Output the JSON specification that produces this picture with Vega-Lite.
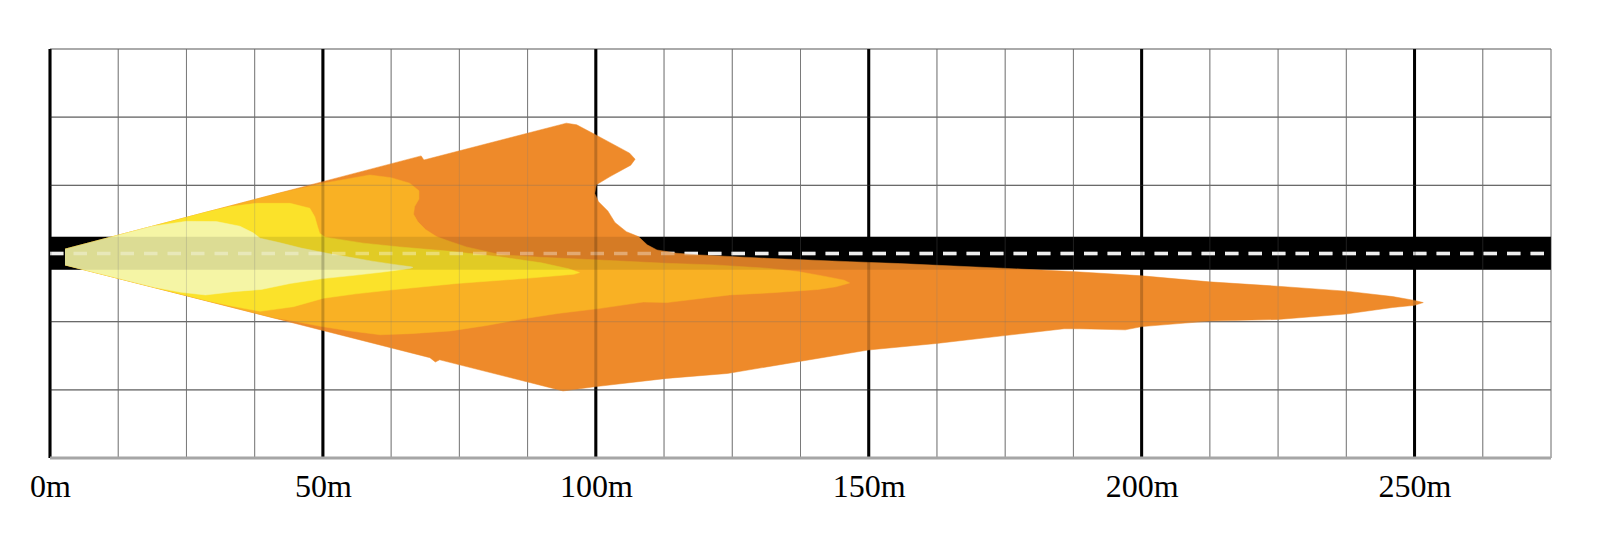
{
  "$schema": "https://vega.github.io/schema/vega-lite/v6.json",
  "width": 1501,
  "height": 409,
  "autosize": {"type": "none"},
  "padding": {"left": 50, "top": 49, "right": 49, "bottom": 79},
  "background": "white",
  "config": {
    "view": {"stroke": null},
    "axisX": {"tickCount": 6, "labelExpr": "datum.value + 'm'", "labelFont": "Liberation Serif", "labelFontSize": 32, "labelColor": "#000000", "labelBaseline": "alphabetic", "labelPadding": 38, "tickSize": 0, "tickOpacity": 0, "domain": false, "grid": false, "labelFlush": false, "labelOverlap": false, "labelAlign": "center"}
  },
  "datasets": {
    "vthin": [{"x":12.5},{"x":25},{"x":37.5},{"x":62.5},{"x":75},{"x":87.5},{"x":112.5},{"x":125},{"x":137.5},{"x":162.5},{"x":175},{"x":187.5},{"x":212.5},{"x":225},{"x":237.5},{"x":262.5},{"x":275}],
    "vmajor": [{"x":0},{"x":50},{"x":100},{"x":150},{"x":200},{"x":250}],
    "hgrid": [{"y":-25},{"y":-12.5},{"y":0},{"y":12.5},{"y":25},{"y":37.5}],
    "hgridover": [{"y":-25},{"y":-12.5},{"y":12.5},{"y":25},{"y":37.5}],
    "bottom": [{"y":-37.5}],
    "road": [{"x":0,"x2":275,"y":-3,"y2":3.05}],
    "center": [{"x":0,"x2":275,"y":0}],
    "orange": [
      {"x":2.75,"y":0.8},{"x":68.0,"y":17.9},{"x":68.5,"y":17.15},{"x":94.6,"y":23.9},{"x":96.5,"y":23.6},{"x":100.1,"y":21.7},{"x":106.2,"y":18.4},{"x":107.2,"y":17.3},{"x":106.4,"y":16.2},{"x":102.6,"y":14.1},{"x":100.1,"y":12.6},{"x":99.8,"y":11.0},{"x":100.5,"y":9.5},{"x":102.2,"y":7.8},{"x":103.5,"y":5.7},{"x":105.6,"y":4.0},{"x":107.8,"y":3.1},{"x":109.4,"y":1.6},{"x":111.2,"y":0.65},{"x":114.8,"y":0.05},{"x":119,"y":-0.27},{"x":131.3,"y":-0.88},{"x":146.5,"y":-1.5},{"x":155.7,"y":-1.85},{"x":174.5,"y":-2.7},{"x":187.2,"y":-3.3},{"x":200.1,"y":-4.1},{"x":212.4,"y":-5.2},{"x":224.9,"y":-6.0},{"x":237.4,"y":-6.9},{"x":246.0,"y":-7.9},{"x":250,"y":-8.6},{"x":251.6,"y":-9.0},{"x":250,"y":-9.5},{"x":246,"y":-9.9},{"x":237.4,"y":-11.1},{"x":224.9,"y":-12.1},{"x":212.4,"y":-12.4},{"x":200.1,"y":-13.4},{"x":197.0,"y":-14.0},{"x":188.6,"y":-13.8},{"x":185.8,"y":-13.8},{"x":174.5,"y":-15.1},{"x":162.4,"y":-16.5},{"x":149.9,"y":-17.7},{"x":137.3,"y":-19.8},{"x":124.1,"y":-22.0},{"x":113.0,"y":-22.9},{"x":100.1,"y":-24.4},{"x":94.0,"y":-25.2},{"x":71.4,"y":-19.5},{"x":70.6,"y":-19.9},{"x":69.6,"y":-19.1},{"x":2.75,"y":-2.1}
    ],
    "ltorange": [
      {"x":2.75,"y":0.8},{"x":41.5,"y":10.95},{"x":50.1,"y":12.9},{"x":58.6,"y":14.4},{"x":62.5,"y":13.9},{"x":65.9,"y":12.9},{"x":67.6,"y":11.5},{"x":67.6,"y":10.0},{"x":66.8,"y":8.6},{"x":66.6,"y":7.2},{"x":67.4,"y":5.8},{"x":68.8,"y":4.4},{"x":70.8,"y":3.1},{"x":73.3,"y":2.2},{"x":76.3,"y":1.2},{"x":82.4,"y":-0.2},{"x":90,"y":-0.7},{"x":100.7,"y":-1.2},{"x":113,"y":-1.8},{"x":121.8,"y":-2.1},{"x":131.3,"y":-2.7},{"x":137,"y":-3.3},{"x":142,"y":-4.2},{"x":145.5,"y":-4.9},{"x":146.5,"y":-5.4},{"x":144,"y":-6.1},{"x":140.7,"y":-6.6},{"x":132.3,"y":-7.2},{"x":124.5,"y":-7.6},{"x":113,"y":-9.0},{"x":108.7,"y":-8.9},{"x":100.5,"y":-10.1},{"x":93,"y":-11.0},{"x":86.5,"y":-12.0},{"x":80,"y":-13.2},{"x":73.4,"y":-14.2},{"x":66,"y":-14.7},{"x":60.5,"y":-14.9},{"x":55,"y":-14.2},{"x":49.8,"y":-13.4},{"x":44.5,"y":-12.4},{"x":41,"y":-11.8},{"x":2.75,"y":-2.1}
    ],
    "yellow": [
      {"x":2.75,"y":0.8},{"x":28.7,"y":7.6},{"x":33,"y":8.6},{"x":37.8,"y":9.2},{"x":44,"y":9.2},{"x":47.6,"y":8.3},{"x":48.5,"y":6.75},{"x":49.0,"y":5.0},{"x":49.4,"y":3.7},{"x":50.4,"y":3.0},{"x":57.4,"y":1.9},{"x":64.1,"y":1.2},{"x":73.3,"y":0.4},{"x":82.4,"y":-0.6},{"x":90,"y":-1.7},{"x":95,"y":-2.8},{"x":97.0,"y":-3.5},{"x":96,"y":-3.8},{"x":87.3,"y":-4.55},{"x":74.5,"y":-5.5},{"x":62.3,"y":-6.7},{"x":56,"y":-7.4},{"x":50.1,"y":-8.2},{"x":44.6,"y":-9.75},{"x":41.5,"y":-10.2},{"x":38.5,"y":-10.6},{"x":33,"y":-9.6},{"x":29,"y":-8.7},{"x":2.75,"y":-2.1}
    ],
    "pale": [
      {"x":2.75,"y":0.8},{"x":18.8,"y":5.0},{"x":25.0,"y":5.9},{"x":30.5,"y":5.85},{"x":34.8,"y":5.0},{"x":37.2,"y":3.8},{"x":38.5,"y":2.8},{"x":42,"y":2.0},{"x":46,"y":1.0},{"x":51,"y":0.0},{"x":55,"y":-0.7},{"x":59,"y":-1.4},{"x":63,"y":-2.0},{"x":66.2,"y":-2.45},{"x":66.5,"y":-2.55},{"x":65.9,"y":-2.75},{"x":61,"y":-3.4},{"x":55.7,"y":-4.0},{"x":50,"y":-4.6},{"x":44,"y":-5.5},{"x":38.7,"y":-6.6},{"x":33.6,"y":-7.0},{"x":28.5,"y":-7.6},{"x":24,"y":-7.1},{"x":19.1,"y":-6.2},{"x":2.75,"y":-2.1}
    ]
  },
  "layer": [
    {"data": {"name": "vthin"}, "mark": {"type": "rule", "color": "#7a7a7a", "strokeWidth": 1},
     "encoding": {"x": {"field": "x", "type": "quantitative", "title": null, "scale": {"domain": [0, 275], "nice": false, "zero": false}}}},
    {"data": {"name": "hgrid"}, "mark": {"type": "rule", "color": "#6a6a6a", "strokeWidth": 1.2},
     "encoding": {"y": {"field": "y", "type": "quantitative", "scale": {"domain": [-37.5, 37.5], "nice": false, "zero": false}, "axis": null}}},
    {"data": {"name": "vmajor"}, "mark": {"type": "rule", "color": "#000000", "strokeWidth": 3},
     "encoding": {"x": {"field": "x", "type": "quantitative", "title": null, "scale": {"domain": [0, 275], "nice": false, "zero": false}}}},
    {"data": {"name": "road"}, "mark": {"type": "rect", "color": "#000000"},
     "encoding": {
       "x": {"field": "x", "type": "quantitative", "title": null, "scale": {"domain": [0, 275], "nice": false, "zero": false}},
       "x2": {"field": "x2"},
       "y": {"field": "y", "type": "quantitative", "scale": {"domain": [-37.5, 37.5], "nice": false, "zero": false}, "axis": null},
       "y2": {"field": "y2"}}},
    {"data": {"name": "center"}, "mark": {"type": "rule", "color": "#ffffff", "strokeWidth": 3.5, "strokeDash": [13.5, 10]},
     "encoding": {
       "x": {"field": "x", "type": "quantitative", "title": null, "scale": {"domain": [0, 275], "nice": false, "zero": false}},
       "x2": {"field": "x2"},
       "y": {"field": "y", "type": "quantitative", "scale": {"domain": [-37.5, 37.5], "nice": false, "zero": false}, "axis": null}}},
    {"data": {"name": "orange"}, "mark": {"type": "line", "fill": "#EE8A2A", "stroke": "#EE8A2A", "strokeWidth": 0.5, "interpolate": "linear"},
     "encoding": {
       "x": {"field": "x", "type": "quantitative", "title": null, "scale": {"domain": [0, 275], "nice": false, "zero": false}},
       "y": {"field": "y", "type": "quantitative", "scale": {"domain": [-37.5, 37.5], "nice": false, "zero": false}, "axis": null},
       "order": {"value": null}}},
    {"data": {"name": "ltorange"}, "mark": {"type": "line", "fill": "#F9B124", "stroke": "#F9B124", "strokeWidth": 0.5, "interpolate": "linear"},
     "encoding": {
       "x": {"field": "x", "type": "quantitative", "title": null, "scale": {"domain": [0, 275], "nice": false, "zero": false}},
       "y": {"field": "y", "type": "quantitative", "scale": {"domain": [-37.5, 37.5], "nice": false, "zero": false}, "axis": null},
       "order": {"value": null}}},
    {"data": {"name": "yellow"}, "mark": {"type": "line", "fill": "#FBE22A", "stroke": "#FBE22A", "strokeWidth": 0.5, "interpolate": "linear"},
     "encoding": {
       "x": {"field": "x", "type": "quantitative", "title": null, "scale": {"domain": [0, 275], "nice": false, "zero": false}},
       "y": {"field": "y", "type": "quantitative", "scale": {"domain": [-37.5, 37.5], "nice": false, "zero": false}, "axis": null},
       "order": {"value": null}}},
    {"data": {"name": "pale"}, "mark": {"type": "line", "fill": "#F5F5A5", "stroke": "#F5F5A5", "strokeWidth": 0.5, "interpolate": "linear"},
     "encoding": {
       "x": {"field": "x", "type": "quantitative", "title": null, "scale": {"domain": [0, 275], "nice": false, "zero": false}},
       "y": {"field": "y", "type": "quantitative", "scale": {"domain": [-37.5, 37.5], "nice": false, "zero": false}, "axis": null},
       "order": {"value": null}}},
    {"data": {"name": "road"}, "mark": {"type": "rect", "color": "#000000", "opacity": 0.1},
     "encoding": {
       "x": {"field": "x", "type": "quantitative", "title": null, "scale": {"domain": [0, 275], "nice": false, "zero": false}},
       "x2": {"field": "x2"},
       "y": {"field": "y", "type": "quantitative", "scale": {"domain": [-37.5, 37.5], "nice": false, "zero": false}, "axis": null},
       "y2": {"field": "y2"}}},
    {"data": {"name": "center"}, "mark": {"type": "rule", "color": "#ffffff", "strokeWidth": 3.5, "strokeDash": [13.5, 10], "opacity": 0.35},
     "encoding": {
       "x": {"field": "x", "type": "quantitative", "title": null, "scale": {"domain": [0, 275], "nice": false, "zero": false}},
       "x2": {"field": "x2"},
       "y": {"field": "y", "type": "quantitative", "scale": {"domain": [-37.5, 37.5], "nice": false, "zero": false}, "axis": null}}},
    {"data": {"name": "vthin"}, "mark": {"type": "rule", "color": "#7a7a7a", "strokeWidth": 1, "opacity": 0.25},
     "encoding": {"x": {"field": "x", "type": "quantitative", "title": null, "scale": {"domain": [0, 275], "nice": false, "zero": false}}}},
    {"data": {"name": "hgridover"}, "mark": {"type": "rule", "color": "#6a6a6a", "strokeWidth": 1.2, "opacity": 0.25},
     "encoding": {"y": {"field": "y", "type": "quantitative", "scale": {"domain": [-37.5, 37.5], "nice": false, "zero": false}, "axis": null}}},
    {"data": {"name": "vmajor"}, "mark": {"type": "rule", "color": "#000000", "strokeWidth": 3, "opacity": 0.2},
     "encoding": {"x": {"field": "x", "type": "quantitative", "title": null, "scale": {"domain": [0, 275], "nice": false, "zero": false}}}},
    {"data": {"name": "bottom"}, "mark": {"type": "rule", "color": "#a6a6a6", "strokeWidth": 3},
     "encoding": {"y": {"field": "y", "type": "quantitative", "scale": {"domain": [-37.5, 37.5], "nice": false, "zero": false}, "axis": null}}}
  ]
}
